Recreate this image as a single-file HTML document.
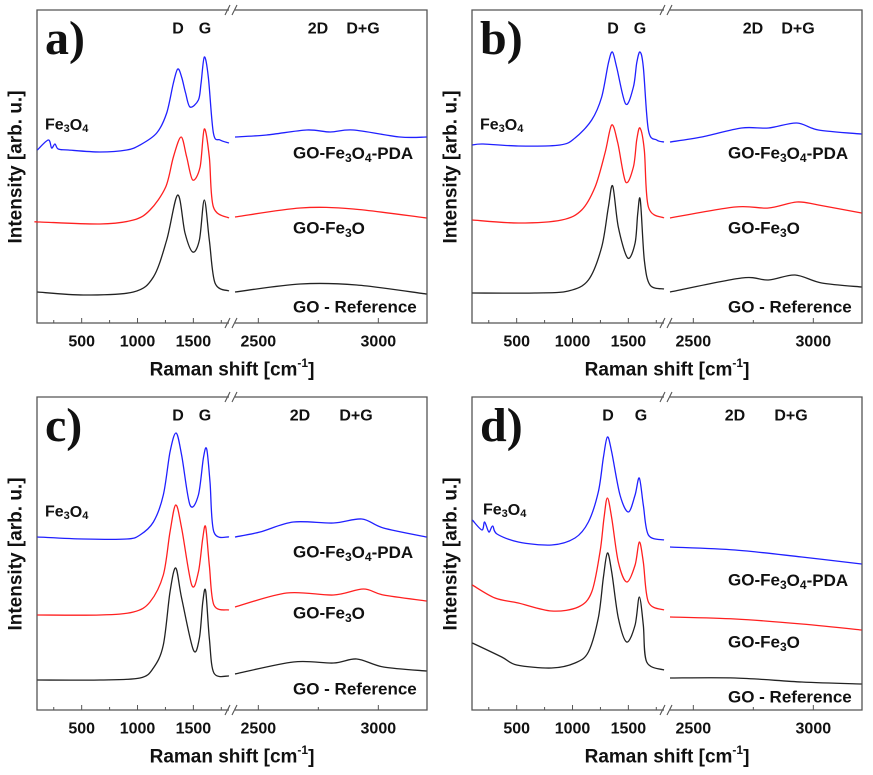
<!DOCTYPE html>
<html><head><meta charset="utf-8">
<style>
html,body{margin:0;padding:0;background:#fff;}
svg{display:block;font-family:"Liberation Sans",sans-serif;}
</style></head>
<body>
<svg id="fig" width="873" height="775" viewBox="0 0 873 775"></svg>
<script>
// ---- data: Raman spectra (shift cm^-1, intensity arb.) ----
const tickLabelsLeft = ["500","1000","1500"];
const tickValuesLeft = [500,1000,1500];
const minorLeft = [250,750,1250,1750];
const tickLabelsRight = ["2500","3000"];
const tickValuesRight = [2500,3000];
const minorRight = [2750];
const panelLetters = ["a)","b)","c)","d)"];
const seriesNames = ["GO-Fe3O4-PDA","GO-Fe3O","GO - Reference"];
const seriesColors = ["#2020ff","#ff2020","#222222"];

const aBlueL=[[103,173],[201,183],[231,175],[261,179],[290,174],[381,173],[664,171],[903,173],[1022,178],[1172,190],[1261,210],[1321,240],[1360,254],[1395,246],[1430,230],[1470,216],[1545,223],[1569,240],[1598,266],[1634,246],[1679,190],[1739,183],[1819,180]];
const aBlueR=[[2403,186],[2535,188],[2701,193],[2800,191],[2896,193],[3090,186],[3201,186]];
const aRedL=[[103,101],[127,101],[664,99],[963,103],[1112,113],[1252,136],[1321,166],[1390,186],[1440,166],[1494,143],[1560,156],[1598,194],[1643,166],[1679,116],[1819,105]];
const aRedR=[[2403,106],[2674,115],[2896,114],[3201,105]];
const aBlackL=[[103,31],[515,28],[963,31],[1142,46],[1261,83],[1360,128],[1425,90],[1494,71],[1554,83],[1598,123],[1643,83],[1694,40],[1819,32]];
const aBlackR=[[2403,31],[2674,39],[2910,38],[3201,29]];

const bBlueL=[[103,178],[200,179],[515,177],[888,178],[1022,185],[1172,203],[1261,226],[1321,260],[1357,271],[1395,256],[1476,219],[1545,236],[1575,260],[1604,271],[1634,256],[1679,193],[1754,183],[1819,181]];
const bBlueR=[[2403,181],[2535,186],[2701,195],[2813,195],[2931,200],[3021,193],[3201,189]];
const bRedL=[[103,103],[515,100],[903,103],[1082,113],[1202,136],[1291,170],[1351,198],[1405,180],[1476,141],[1545,156],[1575,183],[1604,195],[1643,173],[1679,116],[1819,105]];
const bRedR=[[2403,105],[2674,116],[2813,115],[2931,121],[3021,118],[3201,110]];
const bBlackL=[[103,30],[664,30],[963,32],[1142,43],[1261,76],[1321,116],[1360,137],[1410,96],[1494,65],[1560,80],[1584,110],[1607,123],[1643,63],[1694,38],[1819,34]];
const bBlackR=[[2403,31],[2701,45],[2813,43],[2924,48],[3035,40],[3201,36]];

const cBlueL=[[103,173],[515,171],[903,171],[1022,175],[1142,188],[1231,215],[1291,258],[1345,277],[1395,255],[1470,205],[1545,215],[1590,252],[1619,261],[1649,228],[1684,178],[1819,173]];
const cBlueR=[[2403,173],[2507,178],[2646,188],[2813,187],[2931,191],[3021,182],[3201,173]];
const cRedL=[[103,95],[664,95],[963,98],[1112,108],[1231,135],[1291,178],[1342,205],[1395,182],[1485,125],[1545,138],[1584,172],[1610,183],[1643,145],[1684,105],[1819,100]];
const cRedR=[[2403,103],[2618,117],[2813,115],[2938,121],[3021,115],[3201,109]];
const cBlackL=[[103,30],[664,30],[1022,32],[1142,42],[1231,65],[1291,118],[1342,142],[1395,112],[1500,60],[1554,72],[1584,108],[1610,119],[1643,72],[1684,37],[1819,34]];
const cBlackR=[[2403,36],[2646,48],[2813,47],[2910,51],[3021,43],[3201,39]];

const dBlueL=[[103,190],[189,180],[213,188],[251,178],[285,184],[324,176],[515,168],[813,165],[1022,172],[1142,188],[1231,218],[1276,252],[1312,273],[1351,258],[1425,215],[1500,198],[1560,215],[1598,232],[1634,205],[1679,175],[1819,170]];
const dBlueR=[[2403,163],[2674,160],[2952,153],[3201,146]];
const dRedL=[[103,125],[306,112],[515,107],[813,99],[1052,103],[1172,118],[1246,158],[1282,192],[1312,212],[1351,192],[1410,148],[1485,128],[1560,145],[1598,168],[1634,148],[1679,108],[1819,100]];
const dRedR=[[2403,93],[2674,91],[2952,86],[3201,80]];
const dBlackL=[[103,67],[366,53],[500,45],[813,42],[1022,47],[1142,58],[1231,92],[1276,132],[1312,157],[1351,138],[1410,92],[1485,68],[1560,85],[1598,113],[1634,85],[1664,48],[1819,40]];
const dBlackR=[[2403,32],[2674,32],[2952,28],[3201,26]];

const panelSeries=[
  [[aBlueL,aBlueR],[aRedL,aRedR],[aBlackL,aBlackR]],
  [[bBlueL,bBlueR],[bRedL,bRedR],[bBlackL,bBlackR]],
  [[cBlueL,cBlueR],[cRedL,cRedR],[cBlackL,cBlackR]],
  [[dBlueL,dBlueR],[dRedL,dRedR],[dBlackL,dBlackR]]
];

// ---- layout ----
const NS="http://www.w3.org/2000/svg";
const svg=document.getElementById('fig');
const origins=[[0,0],[435,0],[0,387],[435,387]];
const BL=37,BR=427,BT=10,BB=323,BRK1=229,BRK2=235;
const peakLbl=[[178,205,318,363],[178,205,318,363],[178,205,300,356],[173,206,300,356]];
const feY=[125,125,125,123];
const nameY=[[153,228,307],[153,228,307],[165,226,302],[193,255,310]];
function xL(c){return 81.67+(c-500)*0.1117;}
function xR(c){return 258.33+(c-2500)*0.24;}
function yS(v){return BB-v;}
function mk(tag,attrs,parent){const e=document.createElementNS(NS,tag);for(const k in attrs)e.setAttribute(k,attrs[k]);parent.appendChild(e);return e;}
function smooth(pts){
  let d='M'+pts[0][0].toFixed(1)+','+pts[0][1].toFixed(1);
  for(let i=0;i<pts.length-1;i++){
    const p0=pts[Math.max(0,i-1)],p1=pts[i],p2=pts[i+1],p3=pts[Math.min(pts.length-1,i+2)];
    const t=0.16;
    const c1=[p1[0]+(p2[0]-p0[0])*t,p1[1]+(p2[1]-p0[1])*t];
    const c2=[p2[0]-(p3[0]-p1[0])*t,p2[1]-(p3[1]-p1[1])*t];
    d+=' C'+c1[0].toFixed(1)+','+c1[1].toFixed(1)+' '+c2[0].toFixed(1)+','+c2[1].toFixed(1)+' '+p2[0].toFixed(1)+','+p2[1].toFixed(1);
  }
  return d;
}
function txt(g,x,y,s,size,anchor){
  const t=mk('text',{x:x,y:y,'font-size':size,'font-weight':'bold','text-anchor':anchor||'start','dominant-baseline':'central',fill:'#111'},g);
  t.innerHTML=s;return t;
}

for(let p=0;p<4;p++){
  const g=mk('g',{transform:'translate('+origins[p][0]+','+origins[p][1]+')'},svg);
  
  
  const fr=mk('path',{d:`M${BRK1},${BT} H${BL} V${BB} H${BRK1} M${BRK2},${BB} H${BR} V${BT} H${BRK2}`,fill:'none',stroke:'#555','stroke-width':1.3},g);
  
  
  const br=mk('path',{d:`M${BRK1-4},${BT+5} L${BRK1+1},${BT-5} M${BRK2-3},${BT+5} L${BRK2+2},${BT-5} M${BRK1-4},${BB+5} L${BRK1+1},${BB-5} M${BRK2-3},${BB+5} L${BRK2+2},${BB-5}`,fill:'none',stroke:'#555','stroke-width':1.1},g);
  
  
  let td='';
  tickValuesLeft.forEach(v=>{const x=xL(v);td+=`M${x},${BB} V${BB-5} `;});
  minorLeft.forEach(v=>{const x=xL(v);if(x>BL&&x<BRK1)td+=`M${x},${BB} V${BB-3} `;});
  tickValuesRight.forEach(v=>{const x=xR(v);td+=`M${x},${BB} V${BB-5} `;});
  minorRight.forEach(v=>{const x=xR(v);td+=`M${x},${BB} V${BB-3} `;});
  const tk=mk('path',{d:td,stroke:'#555','stroke-width':1,fill:'none'},g);
  
  
  tickValuesLeft.forEach((v,i)=>{const t=txt(g,xL(v),342,tickLabelsLeft[i],16,'middle');
    
    });
  tickValuesRight.forEach((v,i)=>{const t=txt(g,xR(v),342,tickLabelsRight[i],16,'middle');
    
    });
  const xt=txt(g,232,370,'Raman shift [cm<tspan font-size="12" dy="-7">-1</tspan><tspan dy="7">]</tspan>',19,'middle');
  
  
  const yt=mk('text',{x:0,y:0,'font-size':19,'font-weight':'bold','text-anchor':'middle','dominant-baseline':'central',fill:'#111',transform:'translate(16,167) rotate(-90)'},g);
  yt.textContent='Intensity [arb. u.]';
  
  
  const pl=mk('text',{x:45,y:54,'font-size':48,'font-weight':'bold','font-family':'"Liberation Serif",serif',fill:'#111'},g);
  pl.textContent=panelLetters[p];
  
  
  ['D','G','2D','D+G'].forEach((s,i)=>{const t=txt(g,peakLbl[p][i],29,s,16,'middle');
    
    });
  const fe=txt(g,45+(p==3?3:0),feY[p],'Fe<tspan font-size="11" dy="4">3</tspan><tspan dy="-4">O</tspan><tspan font-size="11" dy="4">4</tspan>',16,'start');
  
  
  const nm=['GO-Fe<tspan font-size="12" dy="5">3</tspan><tspan dy="-5">O</tspan><tspan font-size="12" dy="5">4</tspan><tspan dy="-5">-PDA</tspan>',
            'GO-Fe<tspan font-size="12" dy="5">3</tspan><tspan dy="-5">O</tspan>','GO - Reference'];
  nm.forEach((s,i)=>{const t=txt(g,293,nameY[p][i],s,17,'start');
    
    });
  panelSeries[p].forEach((ser,si)=>{
    const ptsL=ser[0].map(q=>[xL(q[0]),yS(q[1])]);
    const ptsR=ser[1].map(q=>[xR(q[0]),yS(q[1])]);
    const l1=mk('path',{d:smooth(ptsL),fill:'none',stroke:seriesColors[si],'stroke-width':1.3,'stroke-linejoin':'round'},g);
    
    
    const l2=mk('path',{d:smooth(ptsR),fill:'none',stroke:seriesColors[si],'stroke-width':1.3,'stroke-linejoin':'round'},g);
    
    
  });
}
</script>
</body></html>
